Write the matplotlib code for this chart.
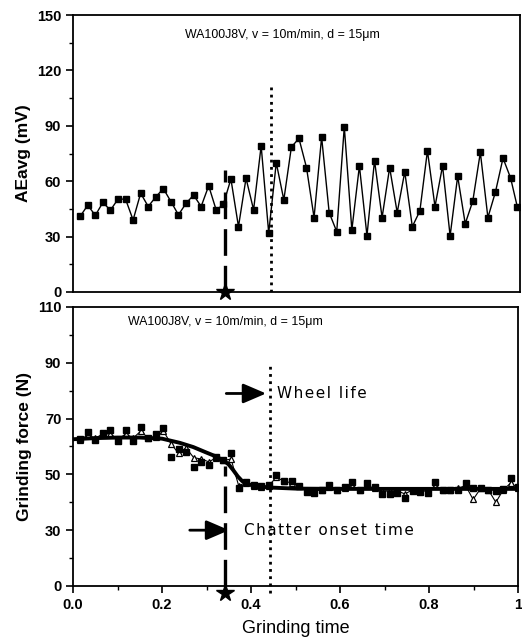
import matplotlib
matplotlib.use("Agg")
import matplotlib.pyplot as plt
from matplotlib.ticker import MultipleLocator, FixedLocator

plt.rcParams['font.family'] = ['Liberation Sans', 'DejaVu Sans']

# grinding time (normalised)
time = [0.016, 0.033, 0.050, 0.067, 0.084, 0.101, 0.118, 0.135, 0.152, 0.169,
        0.186, 0.203, 0.220, 0.237, 0.254, 0.271, 0.288, 0.305, 0.322, 0.338,
        0.355, 0.372, 0.389, 0.406, 0.423, 0.440, 0.457, 0.474, 0.491, 0.508,
        0.525, 0.542, 0.559, 0.576, 0.593, 0.610, 0.627, 0.644, 0.661, 0.678,
        0.695, 0.712, 0.729, 0.746, 0.763, 0.780, 0.797, 0.814, 0.831, 0.848,
        0.865, 0.882, 0.899, 0.916, 0.933, 0.950, 0.967, 0.984, 0.999]

ae_avg = [41, 47, 41.5, 48.5, 44.3, 50.3, 50.3, 39, 53.5, 46.3,
          51.5, 56, 49, 41.8, 48, 52.5, 46.3, 57.5, 44.3, 47.5,
          61.2, 35.4, 61.6, 44.5, 79.2, 32, 70, 49.9, 78.5, 83.2,
          67.4, 40.3, 83.9, 43, 32.7, 89.5, 33.6, 68.3, 30.5, 71.2,
          40.3, 67.4, 43, 65.1, 35.4, 43.9, 76.5, 46.3, 68.3, 30.4,
          62.7, 37, 49.2, 75.6, 40.3, 54.2, 72.5, 61.8, 46.3]

force_sq = [62.8, 65.2, 62.4, 64.8, 65.8, 61.9, 65.8, 61.9, 66.9, 63.2,
            64.3, 66.6, 56.2, 59.2, 58, 52.5, 54.4, 53.2, 56.4, 55.2,
            57.6, 45, 47.4, 46.3, 45.9, 46.2, 49.9, 47.7, 47.5, 45.9,
            43.8, 43.2, 44.4, 46.2, 44.4, 45.6, 47.1, 44.5, 46.9, 45.3,
            43, 43, 43.2, 41.7, 44.1, 43.8, 43.5, 47.1, 44.4, 44.5,
            44.4, 46.9, 45.1, 45, 44.4, 44.1, 44.7, 48.6, 45.6]

force_tri = [62.5, 64, 63, 64.5, 64.5, 62.5, 64.5, 63, 65.5, 63,
             63.5, 65.5, 61, 57.5, 59.5, 56, 55.5, 54.5, 56, 55,
             55.5, 46, 47, 46, 45.5, 46, 49, 47.5, 47, 46,
             44.5, 44, 44.5, 45.5, 44.5, 45, 46, 44.5, 46, 45,
             44, 44, 44, 43, 44.5, 44, 44, 46, 44.5, 44.5,
             45, 46, 41, 45, 44.5, 40, 44.5, 47, 45]

fit_time = [0.0, 0.05, 0.1, 0.15, 0.2, 0.24, 0.27, 0.3, 0.32, 0.34, 0.35,
            0.36, 0.37, 0.38, 0.39, 0.41, 0.44, 0.5, 0.6, 0.8, 1.0]
fit_force = [62.6, 63, 63.2, 63.2, 62.8, 61.3, 59.8, 57.8, 56.5, 54.8, 53.5,
             51.5, 49.3, 47.6, 46.6, 45.8, 45.3, 44.9, 44.8, 44.8, 44.8]

chatter_t = 0.342
wheel_life_t = 0.445
label = "WA100J8V, v = 10m/min, d = 15\u03bcm"


def spaced(s):
    # the scanned labels are letter-spaced
    return "\u200a".join(s)


fig = plt.figure(figsize=(5.22, 6.44), dpi=100)
ax1 = fig.add_axes([0.140, 0.5466, 0.856, 0.430])
ax2 = fig.add_axes([0.140, 0.0901, 0.8525, 0.4332])

# ---- top panel: AE
ax1.plot(time, ae_avg, color='black', lw=1, marker='s', ms=4.5)
ax1.plot([chatter_t, chatter_t], [0, 66], color='black', lw=2.4, dashes=(8, 3))
ax1.plot([wheel_life_t, wheel_life_t], [0, 113], color='black', lw=2, ls=(0, (1, 1.6)))
ax1.plot([chatter_t], [0], marker='*', color='black', ms=13, clip_on=False, zorder=5)
ax1.set_xlim(0, 1.005)
ax1.set_ylim(0, 150)
ax1.yaxis.set_major_locator(MultipleLocator(30))
ax1.yaxis.set_minor_locator(MultipleLocator(15))
ax1.set_xticks([])
ax1.set_ylabel("AEavg (mV)", fontsize=12.5, fontweight='bold', labelpad=4)
ax1.text(0.252, 137.5, label, fontsize=8.9)

# ---- bottom panel: force
ax2.plot(time, force_tri, color='black', lw=0.8, marker='^', ms=5,
         mfc='white', mec='black', mew=0.9)
ax2.plot(time, force_sq, color='black', lw=0.8, marker='s', ms=4.5, ls='none')
ax2.plot(fit_time, fit_force, color='black', lw=2.8)
ax2.plot([chatter_t, chatter_t], [10, 53], color='black', lw=2.4, dashes=(8, 3))
ax2.plot([wheel_life_t - 0.002] * 2, [7.5, 90], color='black', lw=2,
         ls=(0, (1, 1.6)), clip_on=False)
ax2.plot([chatter_t], [7.5], marker='*', color='black', ms=13, clip_on=False, zorder=5)
ax2.annotate("", xy=(0.44, 79), xytext=(0.338, 79),
             arrowprops=dict(arrowstyle='-|>,head_length=1.4,head_width=0.6',
                             color='black', lw=2))
ax2.text(0.458, 79, spaced("Wheel life"), fontsize=11, va='center',
         family=['DejaVu Sans'])
ax2.annotate("", xy=(0.357, 30), xytext=(0.256, 30),
             arrowprops=dict(arrowstyle='-|>,head_length=1.4,head_width=0.6',
                             color='black', lw=2))
ax2.text(0.385, 30, spaced("Chatter onset time"), fontsize=11, va='center',
         family=['DejaVu Sans'])
ax2.text(0.124, 103.5, label, fontsize=8.9)

ax2.set_xlim(0, 1)
ax2.set_ylim(10, 110)
ax2.yaxis.set_major_locator(FixedLocator([10, 30, 50, 70, 90, 110]))
ax2.set_yticklabels(["0", "30", "50", "70", "90", "110"])
ax2.yaxis.set_minor_locator(FixedLocator([20, 40, 60, 80, 100]))
ax2.xaxis.set_major_locator(FixedLocator([0, 0.2, 0.4, 0.6, 0.8, 1.0]))
ax2.set_xticklabels(["0.0", "0.2", "0.4", "0.6", "0.8", "1"])
ax2.xaxis.set_minor_locator(MultipleLocator(0.1))
ax2.set_ylabel("Grinding force (N)", fontsize=12.5, fontweight='bold', labelpad=4)
ax2.set_xlabel("Grinding time", fontsize=13, labelpad=6)

for ax in (ax1, ax2):
    for sp in ax.spines.values():
        sp.set_linewidth(1.3)
    ax.tick_params(axis='both', which='major', direction='out', length=5, width=1.2,
                   labelsize=10.5)
    ax.tick_params(axis='both', which='minor', direction='out', length=3, width=1)
    for lab in ax.get_yticklabels() + ax.get_xticklabels():
        lab.set_fontweight('bold')

fig.savefig("out.png", dpi=100)
